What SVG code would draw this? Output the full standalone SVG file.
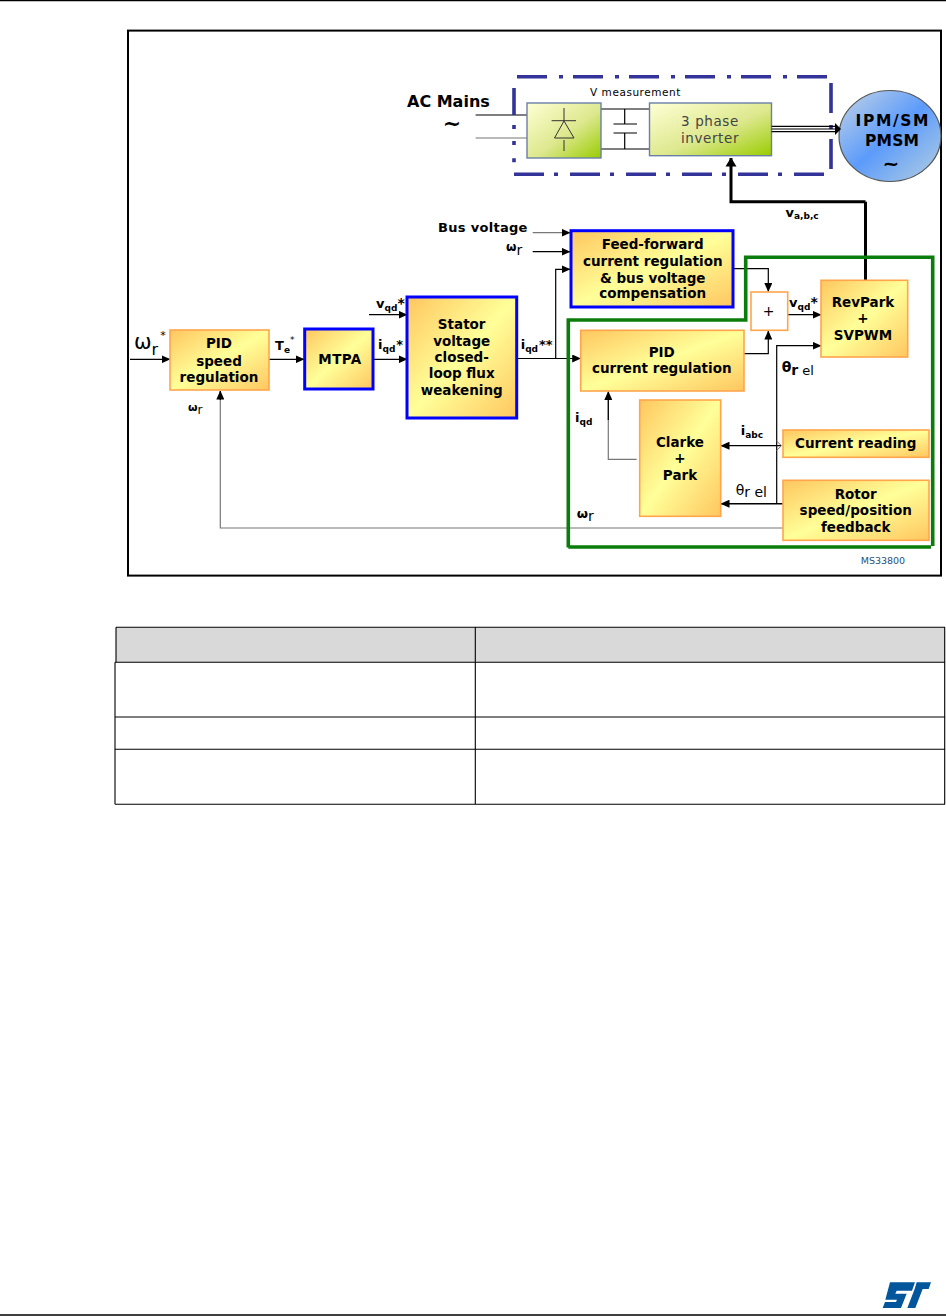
<svg xmlns="http://www.w3.org/2000/svg" width="946" height="1316" viewBox="0 0 946 1316">
<style>
text{font-family:"DejaVu Sans","Liberation Sans",sans-serif;fill:#000}
.b{font-weight:700;font-size:13.5px;text-anchor:middle}
.l{font-weight:700;font-size:13px}
.s{font-size:9px;font-weight:700}
.o{fill:url(#og);stroke:#ffa64d;stroke-width:1.6}
.u{fill:url(#og);stroke:#0000ff;stroke-width:3}
.gb{fill:url(#gg);stroke:#6a7fa8;stroke-width:1.4}
.w{fill:none;stroke:#000;stroke-width:1.2}
.g{fill:none;stroke:#777;stroke-width:1.2}
.d{fill:none;stroke:#333399;stroke-width:3.6;stroke-dasharray:30 12 4 10}
.c{fill:#444;font-size:13.5px;text-anchor:middle;letter-spacing:.6px}
</style>
<defs>
<linearGradient id="og" x1="0" y1="0" x2="1" y2="1"><stop offset="0" stop-color="#ffc65f"/><stop offset=".5" stop-color="#ffff99"/><stop offset="1" stop-color="#ffc65f"/></linearGradient>
<linearGradient id="gg" x1="0" y1="0" x2="1" y2="1"><stop offset="0" stop-color="#ffffd5"/><stop offset=".55" stop-color="#dde88e"/><stop offset="1" stop-color="#99cc00"/></linearGradient>
<linearGradient id="bg" x1="0" y1="0" x2="1" y2="1"><stop offset="0" stop-color="#c5d5e5"/><stop offset=".5" stop-color="#5c9bfb"/><stop offset="1" stop-color="#b5d0e0"/></linearGradient>
<marker id="a" markerUnits="userSpaceOnUse" markerWidth="9" markerHeight="8" refX="8.5" refY="4" orient="auto"><path d="M0 0L9 4L0 8z" fill="#000"/></marker>
<marker id="ar" markerUnits="userSpaceOnUse" markerWidth="9" markerHeight="8" refX=".5" refY="4" orient="auto"><path d="M9 0L0 4L9 8z" fill="#000"/></marker>
<marker id="ab" markerUnits="userSpaceOnUse" markerWidth="9" markerHeight="12" refX="8.5" refY="6" orient="auto"><path d="M0 .5L9 6L0 11.5z" fill="#000"/></marker>
</defs>
<rect width="946" height="1316" fill="#fff"/>
<path d="M0 .5H946M0 1315H946" fill="none" stroke="#000" stroke-width="1.4"/>
<rect x="128" y="30.6" width="813" height="545" fill="none" stroke="#000" stroke-width="2"/>

<g id="connectors">
<path class="w" d="M475.6 115H527"/><path class="g" d="M475.6 138H527"/>
<path class="w" d="M601 109H649.5M601 149H649.5M624.7 109V124M613.5 124H637M613.5 133H637M624.7 133V149"/>
<path class="w" d="M865.5 280V201.7" style="stroke-width:3"/>
<path d="M865.5 201.7H731V158" fill="none" stroke="#000" stroke-width="3" marker-end="url(#ab)"/>
<path class="w" d="M130 359.3H170" marker-end="url(#a)"/>
<path class="w" d="M269 359.3H304" marker-end="url(#a)"/>
<path class="w" d="M373 359.3H407" marker-end="url(#a)"/>
<path class="w" d="M369 314.7H407" marker-end="url(#a)"/>
<path class="w" d="M516.7 358.5H580.7" marker-end="url(#a)"/>
<path class="w" d="M555.7 358.5V269.3H570" marker-end="url(#a)"/>
<path class="g" d="M532.7 232.7H570" marker-end="url(#a)"/>
<path class="w" d="M532.7 251.7H570" marker-end="url(#a)"/>
<path class="w" d="M733 268.7H768.3V291.5" marker-end="url(#a)"/>
<path class="w" d="M744 353.7H768.3V331" marker-end="url(#a)"/>
<path class="w" d="M787.7 314.7H821" marker-end="url(#a)"/>
<path class="w" d="M776.7 504V345.7H821" marker-end="url(#a)"/>
<path class="g" d="M783 528H220.3V391"/>
<path class="w" d="M220.3 400V391" marker-end="url(#a)"/>
<path class="g" d="M636.7 459.3H608.3V400"/>
<path class="w" d="M608.3 420V391.5" marker-end="url(#a)"/>
<path class="w" d="M721 445.7H781" marker-start="url(#ar)"/>
<path d="M776.5 441L781.5 445.7L776.5 450.5" fill="none" stroke="#777"/>
<path d="M783 503.7H721" fill="none" stroke="#000" stroke-width="1.6" marker-end="url(#a)"/>
</g>

<g id="voltage-stage">
<g id="rectifier"><rect class="gb" x="527" y="103" width="74" height="55"/>
<path d="M564 108V121M551.6 120.7H576M564 121L554.5 138H574ZM564 140V151" fill="none" stroke="#333" stroke-width="1"/></g>
<g id="inverter"><rect class="gb" x="649.5" y="103" width="122" height="52.7"/>
<text class="c" x="710" y="126">3 phase</text>
<text class="c" x="710" y="142.7">inverter</text></g>
<path class="d" d="M517 76.7H831"/>
<path class="d" d="M831 83V170"/>
<path class="d" d="M824 174.3H514V158"/>
<path class="d" d="M514 145V88" stroke-dashoffset="26"/>
<text x="590" y="95.7" font-size="10.5" letter-spacing=".55">V measurement</text>
</g>

<g id="motor"><ellipse cx="890" cy="136" rx="51" ry="45.5" fill="url(#bg)" stroke="#555" stroke-width="1.2"/>
<text class="b" x="892" y="125.7" style="font-size:15.5px" textLength="73">IPM/SM</text>
<text class="b" x="892" y="146" style="font-size:15.5px" textLength="54">PMSM</text>
<text class="b" x="891" y="170" style="font-size:20px">~</text></g>
<path id="motor-feed" class="w" d="M771.6 126.3H836M771.6 129H836M771.6 131.7H836"/>
<path d="M835 123L841 129L835 135z" fill="#000"/>

<text x="407" y="106.7" font-size="16" font-weight="700">AC Mains</text>
<text x="452" y="131" font-size="22" font-weight="700" text-anchor="middle">~</text>

<g id="pid-speed"><rect class="o" x="170" y="330" width="99" height="60"/>
<text class="b" x="219" y="348">PID</text><text class="b" x="219" y="365.7">speed</text><text class="b" x="219" y="381.7">regulation</text></g>
<g id="mtpa"><rect class="u" x="304.7" y="329" width="68.3" height="60"/>
<text class="b" x="340" y="364" letter-spacing=".4">MTPA</text></g>
<g id="stator"><rect class="u" x="407" y="297" width="109.7" height="121"/>
<text class="b" x="461.7" y="329">Stator</text><text class="b" x="461.7" y="345.7">voltage</text><text class="b" x="461.7" y="361.7">closed-</text><text class="b" x="461.7" y="378.3">loop flux</text><text class="b" x="461.7" y="395">weakening</text></g>
<g id="feed-forward"><rect class="u" x="571" y="230.7" width="162" height="76.3"/>
<text class="b" x="652.7" y="249.3">Feed-forward</text><text class="b" x="652.7" y="265.7">current regulation</text><text class="b" x="652.7" y="282.7">&amp; bus voltage</text><text class="b" x="652.7" y="298">compensation</text></g>

<path id="green-frame" d="M568.3 547.5V320H745.7V257.3H932.7V546M568.3 547H931" fill="none" stroke="#0a7d0a" stroke-width="3.6"/>

<g id="sum"><rect x="751" y="292" width="36.7" height="38.3" fill="#fff" stroke="#ffa64d" stroke-width="1.6"/>
<text x="768.5" y="316" font-size="14" text-anchor="middle">+</text></g>
<g id="revpark"><rect class="o" x="821" y="280.3" width="86.7" height="76.7"/>
<text class="b" x="863" y="306.7">RevPark</text><text class="b" x="863" y="323">+</text><text class="b" x="863" y="340">SVPWM</text></g>
<g id="pid-current"><rect class="o" x="580.7" y="330.3" width="163.3" height="60.7"/>
<text class="b" x="661.7" y="357">PID</text><text class="b" x="661.7" y="373.3">current regulation</text></g>
<g id="clarke"><rect class="o" x="639.7" y="400" width="81" height="116.3"/>
<text class="b" x="680" y="446.7">Clarke</text><text class="b" x="680" y="463">+</text><text class="b" x="680" y="480">Park</text></g>
<g id="current-reading"><rect class="o" x="783" y="430" width="146" height="27.3"/>
<text class="b" x="855.7" y="447.7">Current reading</text></g>
<g id="rotor"><rect class="o" x="783" y="480.3" width="146" height="60"/>
<text class="b" x="855.7" y="499">Rotor</text><text class="b" x="855.7" y="515">speed/position</text><text class="b" x="855.7" y="531.7">feedback</text></g>

<g id="labels">
<text class="l" x="438" y="231.7" letter-spacing=".3">Bus voltage</text>
<text x="506" y="251" font-size="12" font-weight="700">ω<tspan font-size="14" font-weight="400" dy="4">r</tspan></text>
<text x="134" y="349" font-size="21">ω<tspan font-size="16" dy="6">r</tspan><tspan font-size="11" dx="2" dy="-16">*</tspan></text>
<text class="l" x="275" y="350">T<tspan class="s" dy="3">e</tspan><tspan font-size="9" font-weight="400" dy="-10">*</tspan></text>
<text class="l" x="378" y="349">i<tspan class="s" dy="3" font-weight="400">qd</tspan><tspan dx="1" dy="-3">*</tspan></text>
<text class="l" x="376" y="308">v<tspan class="s" dy="3">qd</tspan><tspan dy="-3" font-size="14">*</tspan></text>
<text class="l" x="520.7" y="349">i<tspan class="s" dy="3">qd</tspan><tspan dx="1" dy="-3">**</tspan></text>
<text x="188" y="411" font-size="11" font-weight="700">ω<tspan font-size="12" font-weight="400" dy="3">r</tspan></text>
<text class="l" x="785.5" y="216.7">v<tspan class="s" dy="2">a,b,c</tspan></text>
<text class="l" x="789" y="307">v<tspan class="s" dy="3">qd</tspan><tspan font-size="14" dy="-3">*</tspan></text>
<text x="781.7" y="372" font-size="14" font-weight="700">θ<tspan dy="3">r</tspan><tspan font-weight="400" font-size="13"> el</tspan></text>
<text class="l" x="575" y="421.7">i<tspan class="s" dy="3">qd</tspan></text>
<text class="l" x="740.7" y="435">i<tspan class="s" dy="3">abc</tspan></text>
<text x="735.7" y="495" font-size="14">θ<tspan dy="2">r</tspan><tspan> el</tspan></text>
<text x="576.7" y="518" font-size="13" font-weight="700">ω<tspan font-weight="400" font-size="14" dy="3">r</tspan></text>
<text x="860.7" y="564" font-size="9.5" style="fill:#1f5080">MS33800</text>
</g>

<g id="table">
<rect x="116" y="627.3" width="828.5" height="35" fill="#d9d9d9"/>
<path d="M116 627.3H945M115 662.3H945M115 717H945M115 749.3H945M115 804.3H945M116 627.3V662.3M115 662.3V804.3M475.3 627.3V804.3M944.7 627.3V804.3" fill="none" stroke="#000" stroke-width="1.1"/>
</g>
<g id="logo" transform="translate(876 1278) scale(.3333)" fill="#03569b">
<path d="M42 13H117L108 38H62L58 47H92L75 90H20L27 72H60L63 65H28Z"/>
<path d="M122 13H165L158 33H140L118 90H94L116 33Z"/>
</g>
</svg>
